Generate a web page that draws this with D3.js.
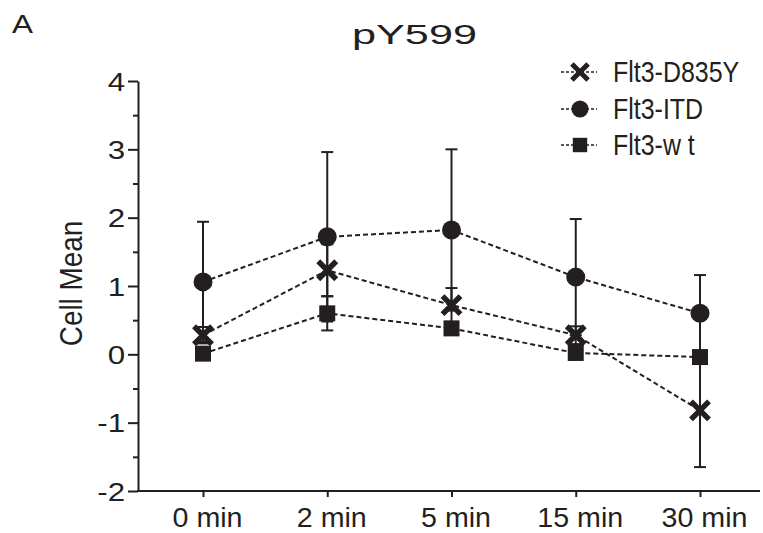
<!DOCTYPE html>
<html><head><meta charset="utf-8">
<script src="https://cdn.jsdelivr.net/npm/d3@7"></script>
<style>body{margin:0;background:#fff}svg{display:block}</style></head>
<body>
<svg id="c" width="763" height="533"></svg>
<script>
const categories = ["0 min", "2 min", "5 min", "15 min", "30 min"];
const seriesNames = ["Flt3-D835Y", "Flt3-ITD", "Flt3-w t"];
const d835yMean = [0.28, 1.23, 0.72, 0.28, -0.82];
const d835yErr  = [0.12, 0.38, 0.25, 0.13, 0.83];
const itdMean   = [1.06, 1.72, 1.82, 1.13, 0.60];
const itdErr    = [0.88, 1.24, 1.18, 0.85, 0.56];
const wtMean    = [0.01, 0.60, 0.38, 0.02, -0.04];
const wtErr     = [0.08, 0.25, 0.08, 0.08, 0.08];
const yMajorTicks = [-2, -1, 0, 1, 2, 3, 4];
const yMinorTicks = [-1.5, -0.5, 0.5, 1.5, 2.5, 3.5];
const titleText = "pY599";
const panelLabel = "A";
const yLabel = "Cell Mean";

const ink = "#231f20";
const font = "'Liberation Sans', Arial, sans-serif";
const svg = d3.select("#c");

function stretch(sel, k) {
  sel.each(function () {
    const L = this.getComputedTextLength();
    d3.select(this).attr("textLength", L * k).attr("lengthAdjust", "spacingAndGlyphs");
  });
}

const series = [
  {name: seriesNames[0], mean: d835yMean, err: d835yErr, shape: "x"},
  {name: seriesNames[1], mean: itdMean, err: itdErr, shape: "circle"},
  {name: seriesNames[2], mean: wtMean, err: wtErr, shape: "square"}
];

const x = d3.scalePoint().domain(categories).range([203, 700]).padding(0);
const y = d3.scaleLinear().domain([-2, 4]).range([491, 81]);
const axisX0 = 138;

// Y axis major
const yAxis = svg.append("g").attr("transform", `translate(${axisX0},0)`)
  .call(d3.axisLeft(y).tickValues(yMajorTicks).tickSize(10).tickSizeOuter(0).tickPadding(3).tickFormat(d => String(d)));
yAxis.selectAll("text").attr("font-family", font).attr("font-size", 25).attr("fill", ink).attr("dy", "0.36em");
yAxis.selectAll("line, path").attr("stroke", ink).attr("stroke-width", 2);
stretch(yAxis.selectAll("text"), 1.25);
// Y axis minor
const yMinor = svg.append("g").attr("transform", `translate(${axisX0},0)`)
  .call(d3.axisLeft(y).tickValues(yMinorTicks).tickSize(5).tickFormat(""));
yMinor.select(".domain").remove();
yMinor.selectAll("line").attr("stroke", ink).attr("stroke-width", 2);

// X axis
const xAxis = svg.append("g").attr("transform", `translate(0,${y(-2)})`)
  .call(d3.axisBottom(x).tickSize(6).tickSizeOuter(0).tickPadding(0));
xAxis.select(".domain").remove();
xAxis.selectAll("line").attr("stroke", ink).attr("stroke-width", 2);
xAxis.selectAll("text").attr("font-family", font).attr("font-size", 27).attr("fill", ink)
  .attr("dy", null).attr("y", 36).attr("x", 4);
stretch(xAxis.selectAll("text"), 1.06);
svg.append("line").attr("x1", axisX0 - 1).attr("x2", 760).attr("y1", y(-2)).attr("y2", y(-2))
  .attr("stroke", ink).attr("stroke-width", 2);

// Lines
const lineGen = d3.line().x((d, i) => x(categories[i])).y(d => y(d));
series.forEach(s => {
  svg.append("path").datum(s.mean).attr("d", lineGen)
    .attr("fill", "none").attr("stroke", ink).attr("stroke-width", 2).attr("stroke-dasharray", "5,3");
});

// Error bars
series.forEach(s => {
  const g = svg.append("g");
  s.mean.forEach((m, i) => {
    const cx = x(categories[i]);
    const lo = y(m - s.err[i]), hi = y(m + s.err[i]);
    g.append("line").attr("x1", cx).attr("x2", cx).attr("y1", lo).attr("y2", hi).attr("stroke", ink).attr("stroke-width", 2);
    [lo, hi].forEach(yy => g.append("line").attr("x1", cx - 6).attr("x2", cx + 6).attr("y1", yy).attr("y2", yy).attr("stroke", ink).attr("stroke-width", 2));
  });
});

function drawMarker(g, shape, cx, cy, k) {
  if (shape === "x") {
    const r = 9 * k;
    g.append("path").attr("d", `M${cx - r},${cy - r}L${cx + r},${cy + r}M${cx - r},${cy + r}L${cx + r},${cy - r}`)
      .attr("stroke", ink).attr("stroke-width", 5.5 * k).attr("fill", "none");
  } else if (shape === "circle") {
    g.append("circle").attr("cx", cx).attr("cy", cy).attr("r", 9.5 * k).attr("fill", ink);
  } else {
    const h = 8 * k;
    g.append("rect").attr("x", cx - h).attr("y", cy - h).attr("width", 2 * h).attr("height", 2 * h).attr("fill", ink);
  }
}

// Markers
series.forEach(s => {
  const g = svg.append("g");
  s.mean.forEach((m, i) => drawMarker(g, s.shape, x(categories[i]), y(m), 1));
});

// Legend
const legendRowY = [72, 109, 145];
series.forEach((s, i) => {
  const g = svg.append("g");
  const ly = legendRowY[i];
  g.append("line").attr("x1", 561).attr("x2", 597).attr("y1", ly).attr("y2", ly)
    .attr("stroke", ink).attr("stroke-width", 1.5).attr("stroke-dasharray", "3,2");
  drawMarker(g, s.shape, 580, ly, 0.9);
  const t = g.append("text").attr("x", 613).attr("y", ly + 10).attr("font-family", font).attr("font-size", 29)
    .attr("fill", ink).text(s.name);
  stretch(t, 0.86);
});

// Title & labels
svg.append("text").attr("x", 352).attr("y", 44).attr("font-family", font).attr("font-size", 27)
  .attr("textLength", 125).attr("lengthAdjust", "spacingAndGlyphs").attr("fill", ink).text(titleText);
svg.append("text").attr("x", 12).attr("y", 33).attr("font-family", font).attr("font-size", 25)
  .attr("textLength", 21).attr("lengthAdjust", "spacingAndGlyphs").attr("fill", ink).text(panelLabel);
const yl = svg.append("text").attr("transform", `translate(82,283.5) rotate(-90)`)
  .attr("text-anchor", "middle").attr("font-family", font).attr("font-size", 32)
  .attr("fill", ink).text(yLabel);
stretch(yl, 0.87);
</script>
</body></html>
